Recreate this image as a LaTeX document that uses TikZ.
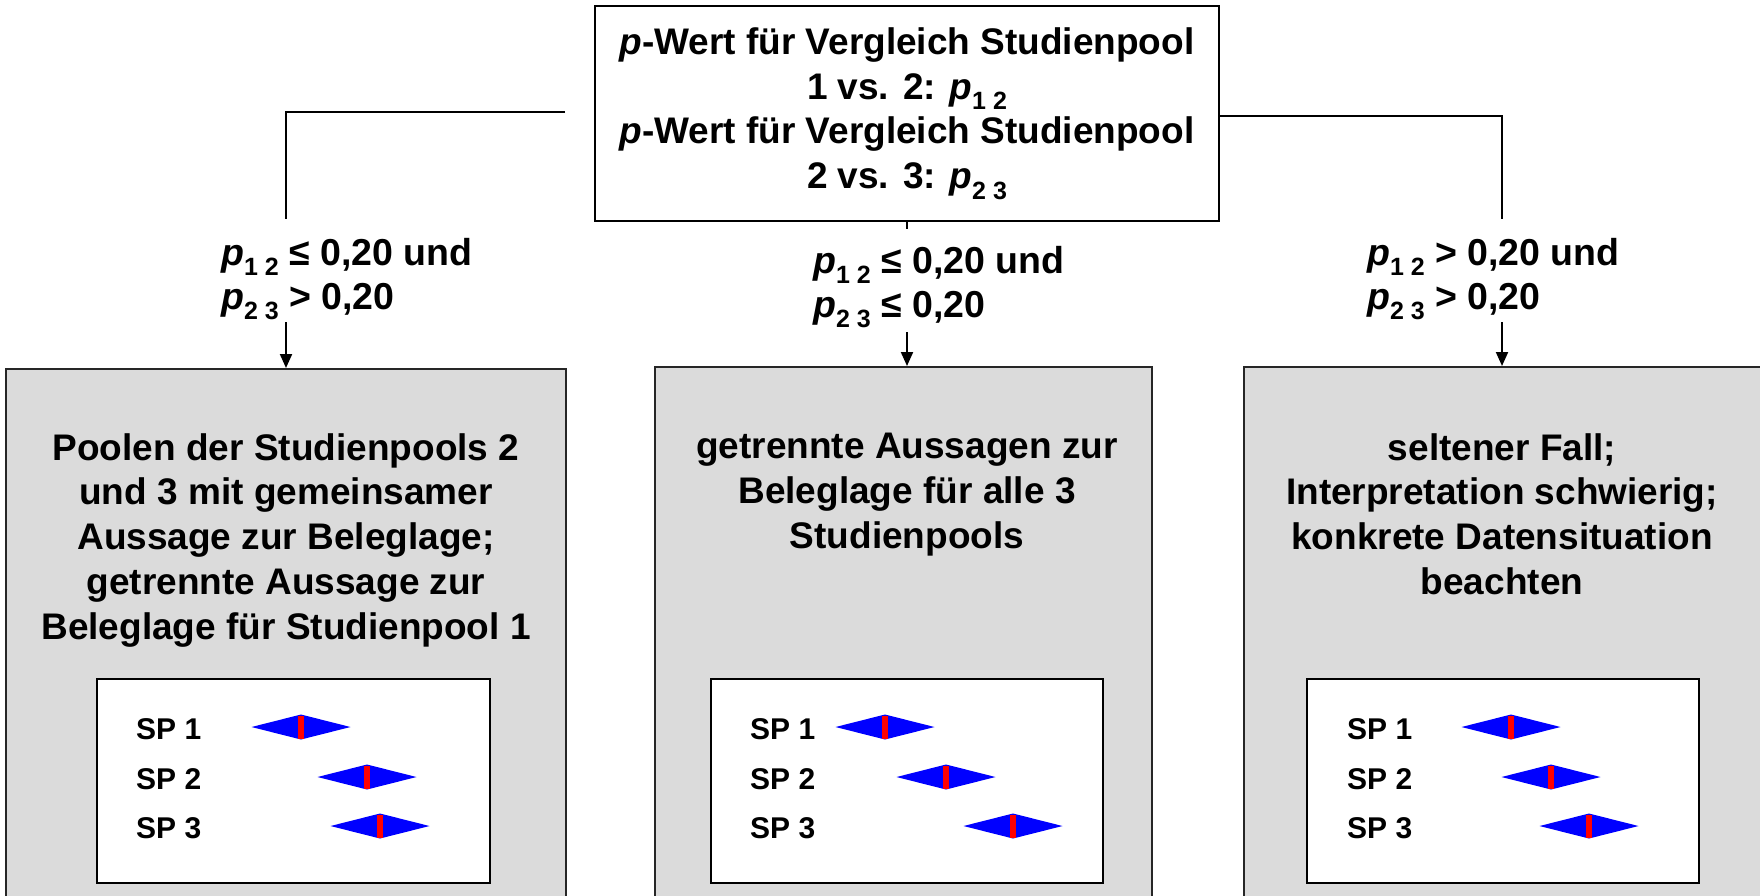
\documentclass[tikz,border=0pt]{standalone}
\usepackage{fontspec}
\setmainfont{Liberation Sans}
\usetikzlibrary{arrows.meta}
\newcommand{\pv}[1]{\textit{p}\raisebox{-0.28em}{\fontsize{25}{25}\selectfont #1}}
\begin{document}
\begin{tikzpicture}[x=1pt,y=-1pt,
  txt/.style={font=\bfseries\fontsize{37}{44.75}\selectfont, align=center, inner sep=0pt},
  lab/.style={font=\bfseries\fontsize{37.5}{44}\selectfont, align=left, inner sep=0pt, anchor=north west},
  gtxt/.style={font=\bfseries\fontsize{37}{44.75}\selectfont, align=center, inner sep=0pt, anchor=north},
  sp/.style={font=\bfseries\fontsize{30}{30}\selectfont, inner sep=0pt, anchor=base west},
  conn/.style={line width=2pt},
  arr/.style={line width=2pt,-{Triangle[length=14pt,width=12pt]}},
  greybox/.style={draw=black!85, line width=2pt, fill=black!14, inner sep=0pt, anchor=north},
  innerbox/.style={draw=black, line width=2pt, fill=white, inner sep=0pt},
  diamondmark/.pic={\fill[blue] (-49.5,0) -- (0,-12.5) -- (49.5,0) -- (0,12.5) -- cycle;
                    \fill[red] (-2.7,-11.5) rectangle (2.7,11.5);}
]
\useasboundingbox (0,0) rectangle (1760,895);
\clip (0,0) rectangle (1760,895);

% top box
\node[draw, line width=2.5pt, minimum width=624pt, minimum height=215pt, txt] (top) at (907,113.5)
  {\textit{p}-Wert für Vergleich Studienpool\\ 1 vs. 2: \pv{1 2}\\ \textit{p}-Wert für Vergleich Studienpool\\ 2 vs. 3: \pv{2 3}};

% grey boxes
\node[greybox, minimum width=560pt, minimum height=600pt] (gl) at (286,368) {};
\node[greybox, minimum width=497pt, minimum height=600pt] (gm) at (903.5,366) {};
\node[greybox, minimum width=520pt, minimum height=600pt] (gr) at (1504,366) {};

% connectors
\coordinate (tl) at (565,112);
\coordinate (lt) at (286,219);
\coordinate (rt) at (1502,219);
\draw[conn] (tl) -| (lt);
\draw[conn] ([yshift=-2.5pt]top.east) -| (rt);
\coordinate (mt) at (907,229);
\draw[conn] (top.south) -- (mt);

% labels
\node[lab] (ll) at (221,238) {\pv{1 2} ≤ 0,20 und\\ \pv{2 3} > 0,20};
\node[lab] (ml) at (813,246) {\pv{1 2} ≤ 0,20 und\\ \pv{2 3} ≤ 0,20};
\node[lab] (rl) at (1367,238) {\pv{1 2} > 0,20 und\\ \pv{2 3} > 0,20};

% arrows
\coordinate (la) at (286,322);
\coordinate (ma) at (907,332);
\coordinate (ra) at (1502,322);
\draw[arr] (la) -- (gl.north);
\draw[arr] (ma) -- (ma |- gm.north);
\draw[arr] (ra) -- (ra |- gr.north);

% grey box texts
\node[gtxt] (tl1) at (286,433) {Poolen der Studienpools 2\\ und 3 mit gemeinsamer\\ Aussage zur Beleglage;\\ getrennte Aussage zur\\ Beleglage für Studienpool 1};
\node[gtxt] (tm1) at (907,433) {getrennte Aussagen zur\\ Beleglage für alle 3\\ Studienpools};
\node[gtxt] (tr1) at (1502,433) {seltener Fall;\\ Interpretation schwierig;\\ konkrete Datensituation\\ beachten};

% inner boxes
\node[innerbox, minimum width=393pt, minimum height=204pt] (il) at (293,781) {};
\node[innerbox, minimum width=392pt, minimum height=204pt] (im) at (907,781) {};
\node[innerbox, minimum width=392pt, minimum height=204pt] (ir) at (1503,781) {};

% SP labels
\node[sp] (l1) at (136,739) {SP 1};
\node[sp] (l2) at (136,789) {SP 2};
\node[sp] (l3) at (136,838) {SP 3};
\node[sp] (m1) at (750,739) {SP 1};
\node[sp] (m2) at (750,789) {SP 2};
\node[sp] (m3) at (750,838) {SP 3};
\node[sp] (r1) at (1347,739) {SP 1};
\node[sp] (r2) at (1347,789) {SP 2};
\node[sp] (r3) at (1347,838) {SP 3};

% diamonds
\pic at (301,727) {diamondmark};
\pic at (367,777) {diamondmark};
\pic at (380,826) {diamondmark};
\pic at (885,727) {diamondmark};
\pic at (946,777) {diamondmark};
\pic at (1013,826) {diamondmark};
\pic at (1511,727) {diamondmark};
\pic at (1551,777) {diamondmark};
\pic at (1589,826) {diamondmark};
\end{tikzpicture}
\end{document}
